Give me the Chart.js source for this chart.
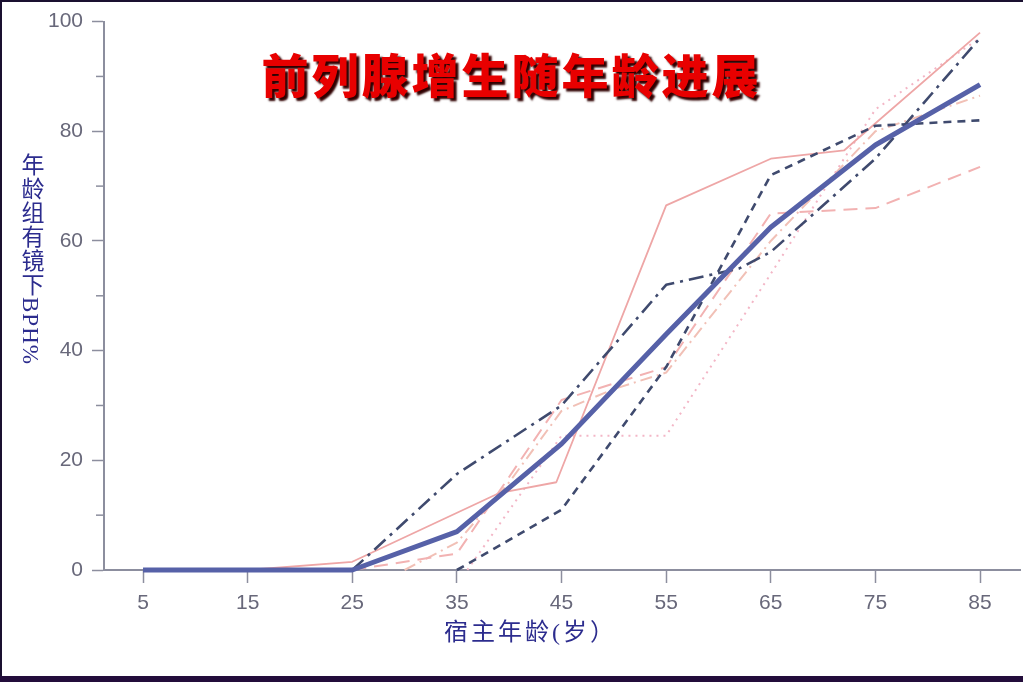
<!DOCTYPE html>
<html>
<head>
<meta charset="utf-8">
<script src="https://cdn.jsdelivr.net/npm/chart.js@4"></script>
<style>
  html, body { margin: 0; padding: 0; background: #fff; }
  #wrap { position: relative; width: 1023px; height: 682px; overflow: hidden; background: #fff; }
  #wrap canvas { position: absolute; left: 0; top: 0; }
  .edgeTop { position: absolute; left: 0; top: 0; width: 1023px; height: 2px; background: #1a1030; }
  .edgeLeft { position: absolute; left: 0; top: 0; width: 2px; height: 682px; background: #1a1030; }
  .edgeBottom { position: absolute; left: 0; top: 676px; width: 1023px; height: 6px; background: #230d3b; }
  #title {
    position: absolute; left: 0; width: 1023px; top: 43px; text-align: center;
    font-family: "Noto Sans CJK SC", sans-serif; font-weight: 900; font-size: 47px;
    letter-spacing: 3px; color: #e80000; line-height: 60px;
    text-shadow: 3px 3px 2px #300000;
  }
  #ylabel {
    position: absolute; left: 16px; top: 153px; writing-mode: vertical-rl;
    font-family: "Liberation Serif", "Noto Sans CJK SC", serif; font-size: 23px;
    letter-spacing: 1px; color: #2c2c8e; line-height: 28px;
  }
  #xlabel {
    position: absolute; left: 444px; top: 617px;
    font-family: "Liberation Serif", "Noto Sans CJK SC", serif; font-size: 24px;
    letter-spacing: 3px; color: #2c2c8e; line-height: 30px;
  }
</style>
</head>
<body>
<div id="wrap">
  <canvas id="chart" width="1023" height="682"></canvas>
  <div class="edgeTop"></div>
  <div class="edgeLeft"></div>
  <div class="edgeBottom"></div>
  <div id="title">前列腺增生随年龄进展</div>
  <div id="ylabel">年龄组有镜下BPH%</div>
  <div id="xlabel">宿主年龄(岁）</div>
</div>
<script>
// 刻度
const xTicks = [5, 15, 25, 35, 45, 55, 65, 75, 85];
const yTicks = [0, 20, 40, 60, 80, 100];
const yMinorTicks = [10, 30, 50, 70, 90];

// 平均曲线（粗蓝线）
const meanAges = [5, 15, 25, 35, 45, 55, 65, 75, 85];
const meanBph = [0, 0, 0, 7, 23, 43, 62.5, 77.5, 88.5];

// 深色点划线
const dashDotAges = [25, 35, 45, 55, 62, 65, 75, 85];
const dashDotBph = [0, 17.5, 30, 52, 55, 58, 75, 97];

// 深色虚线
const dashedAges = [35, 45, 55, 65, 75, 85];
const dashedBph = [0, 11, 37, 72, 81, 82];

// 粉色实线
const pinkSolidAges = [15, 25, 39, 44.5, 55, 65, 72, 85];
const pinkSolidBph = [0, 1.5, 14, 16, 66.5, 75, 76.5, 98];

// 粉色长虚线
const pinkDashAges = [25, 35, 45, 55, 65, 75, 85];
const pinkDashBph = [0, 3, 31, 37, 65, 66, 73.5];

// 粉色点线
const pinkDotAges = [36, 45, 55, 65, 75, 85];
const pinkDotBph = [0, 24.5, 24.5, 54, 84, 97];

// 粉色点划线
const pinkDashDotAges = [30, 35, 40, 45, 50, 55, 65, 75, 85];
const pinkDashDotBph = [0, 5, 16, 29, 33, 36, 60, 80, 86.5];

function toPoints(xs, ys) {
    return xs.map((x, i) => ({ x: x, y: ys[i] }));
}

function series(xs, ys, color, width, dash) {
    return {
        data: toPoints(xs, ys),
        borderColor: color,
        borderWidth: width,
        borderDash: dash,
        pointRadius: 0,
        tension: 0,
        fill: false,
        clip: false,
        borderCapStyle: 'butt',
        borderJoinStyle: 'round'
    };
}

const axisColor = '#8c8e9e';
const tickFont = { family: '"Liberation Sans", Arial, sans-serif', size: 21 };

// 次刻度（较短）
const minorTicksPlugin = {
    id: 'minorTicks',
    afterDraw(chart) {
        const y = chart.scales.y;
        const ctx = chart.ctx;
        ctx.save();
        ctx.strokeStyle = axisColor;
        ctx.lineWidth = 1.5;
        yMinorTicks.forEach(v => {
            const py = y.getPixelForValue(v);
            ctx.beginPath();
            ctx.moveTo(y.right - 8, py);
            ctx.lineTo(y.right, py);
            ctx.stroke();
        });
        ctx.restore();
    }
};

new Chart(document.getElementById('chart'), {
    type: 'line',
    data: {
        datasets: [
            series(meanAges, meanBph, '#5661a8', 5, []),
            series(dashDotAges, dashDotBph, '#3f4a6e', 2.6, [15, 6, 3, 6]),
            series(dashedAges, dashedBph, '#3f4a6e', 2.6, [8, 6]),
            series(pinkSolidAges, pinkSolidBph, '#eea6a6', 1.8, []),
            series(pinkDashAges, pinkDashBph, '#f2b2b2', 2, [14, 8]),
            series(pinkDotAges, pinkDotBph, '#f3b6c6', 2, [2, 5]),
            series(pinkDashDotAges, pinkDashDotBph, '#f1c0b6', 2, [12, 5, 2, 5])
        ]
    },
    options: {
        responsive: false,
        animation: false,
        events: [],
        layout: { padding: { left: 0, top: 20, right: 3, bottom: 0 } },
        plugins: {
            legend: { display: false },
            tooltip: { enabled: false }
        },
        scales: {
            x: {
                type: 'linear',
                min: 1.27,
                max: 88.82,
                afterBuildTicks: s => { s.ticks = xTicks.map(v => ({ value: v })); },
                afterFit: s => { s.height = 112; },
                grid: { drawOnChartArea: false, tickLength: 13, tickColor: axisColor, tickWidth: 1.5 },
                border: { color: axisColor, width: 2 },
                ticks: { color: '#68687a', font: tickFont, padding: 8, maxRotation: 0 }
            },
            y: {
                type: 'linear',
                min: 0,
                max: 100,
                afterBuildTicks: s => { s.ticks = yTicks.map(v => ({ value: v })); },
                afterFit: s => { s.width = 104; },
                grid: { drawOnChartArea: false, tickLength: 12, tickColor: axisColor, tickWidth: 1.5 },
                border: { color: axisColor, width: 2 },
                ticks: { color: '#68687a', font: tickFont, padding: 9 }
            }
        }
    },
    plugins: [minorTicksPlugin]
});
</script>
</body>
</html>
